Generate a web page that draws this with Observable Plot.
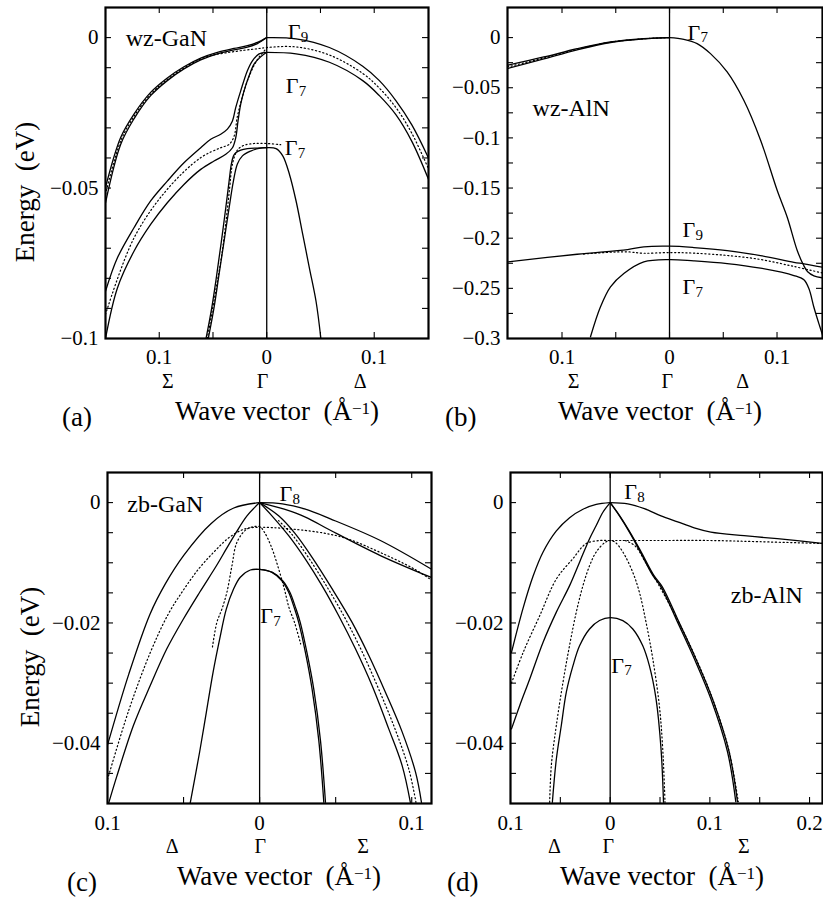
<!DOCTYPE html>
<html><head><meta charset="utf-8">
<script src="https://cdn.jsdelivr.net/npm/d3@7"></script>
<script src="https://cdn.jsdelivr.net/npm/@observablehq/plot@0.6"></script>
<style>
body{margin:0;background:#fff;}
#wrap{position:relative;width:823px;height:903px;overflow:hidden;background:#fff;font-family:"Liberation Serif","Times New Roman",Times,serif;color:#000;}
.panel{position:absolute;}
.lab{position:absolute;font-size:27px;line-height:24px;white-space:pre;}
.lab sup{font-size:17px;line-height:0;vertical-align:0;position:relative;top:-6px;}
.ylab{position:absolute;font-size:27px;line-height:27px;white-space:pre;transform:translate(-50%,-50%) rotate(-90deg);}
</style></head><body><div id="wrap"></div>
<script>
// ---------------- panel (a) wz-GaN ----------------
const aG9L1 = [[-0.15,-0.0498],[-0.1359,-0.0332],[-0.1235,-0.0254],[-0.108,-0.0182],[-0.0925,-0.0134],[-0.077,-0.0097],[-0.0614,-0.0068],[-0.0459,-0.0049],[-0.0304,-0.0036],[-0.018,-0.0027],[-0.0087,-0.0016],[0,0]];
const aG9L2 = [[-0.15,-0.0549],[-0.1359,-0.0355],[-0.1235,-0.027],[-0.108,-0.0193],[-0.0925,-0.0143],[-0.077,-0.0104],[-0.0614,-0.0074],[-0.0459,-0.0054],[-0.0304,-0.0041],[-0.018,-0.0032],[-0.0087,-0.002],[0,0]];
const aG9R = [[0,0],[0.0273,-0.0004],[0.0583,-0.0033],[0.0893,-0.0095],[0.1048,-0.0143],[0.1203,-0.021],[0.135,-0.029],[0.1505,-0.040]];
const aG7R = [[0,-0.0049],[0.0273,-0.0054],[0.0583,-0.0082],[0.0893,-0.0143],[0.1048,-0.0193],[0.1203,-0.0257],[0.135,-0.0345],[0.1505,-0.0471]];
const aTopDot = [[-0.15,-0.052],[-0.1359,-0.0344],[-0.1235,-0.0262],[-0.108,-0.0188],[-0.0925,-0.0139],[-0.077,-0.0101],[-0.0614,-0.0071],[-0.05,-0.0058],[-0.0366,-0.005],[-0.021,-0.0042],[-0.0087,-0.0037],[0,-0.0033],[0.0273,-0.0031],[0.0583,-0.0058],[0.0893,-0.0119],[0.1048,-0.0168],[0.1203,-0.0233],[0.135,-0.0318],[0.1505,-0.0436]];
const aLH1 = [[-0.15,-0.0843],[-0.1389,-0.0732],[-0.1235,-0.0632],[-0.108,-0.0543],[-0.0925,-0.0477],[-0.077,-0.0416],[-0.0614,-0.0366],[-0.0521,-0.0338],[-0.0428,-0.0321],[-0.0366,-0.0304],[-0.0319,-0.0277],[-0.0288,-0.0232],[-0.0242,-0.0177],[-0.018,-0.011],[-0.0133,-0.0077],[-0.0071,-0.0054],[0,-0.0049]];
const aLH2 = [[-0.15,-0.1],[-0.1389,-0.0832],[-0.1235,-0.071],[-0.108,-0.0621],[-0.0925,-0.0549],[-0.077,-0.0488],[-0.0614,-0.0438],[-0.049,-0.041],[-0.0381,-0.0388],[-0.0319,-0.0366],[-0.0288,-0.0332],[-0.0267,-0.0277],[-0.0242,-0.0221],[-0.0211,-0.0177],[-0.0164,-0.0127],[-0.0118,-0.0088],[-0.0056,-0.0064],[0,-0.0049]];
const aLHDot = [[-0.15,-0.092],[-0.1235,-0.0666],[-0.0925,-0.0504],[-0.0614,-0.0399],[-0.0428,-0.0366],[-0.035,-0.0355],[-0.0304,-0.0328],[-0.0273,-0.0262],[-0.0226,-0.0196],[-0.0164,-0.0129],[-0.0087,-0.0073],[0,-0.0035]];
const aSO1 = [[-0.0567,-0.1004],[-0.0512,-0.0899],[-0.0465,-0.0788],[-0.0422,-0.0677],[-0.0381,-0.0566],[-0.035,-0.0477],[-0.0329,-0.042],[-0.031,-0.0394],[-0.0288,-0.0383],[-0.0242,-0.0374],[-0.018,-0.0369],[-0.0087,-0.0367],[0,-0.0366]];
const aSO2 = [[-0.0546,-0.1004],[-0.0491,-0.0899],[-0.0444,-0.0788],[-0.0397,-0.0677],[-0.035,-0.0566],[-0.031,-0.0477],[-0.0273,-0.042],[-0.0226,-0.0393],[-0.0149,-0.0377],[-0.0071,-0.0368],[0,-0.0366]];
const aSOR = [[0,-0.0366],[0.0087,-0.0369],[0.0149,-0.0393],[0.0211,-0.0454],[0.0273,-0.0543],[0.0335,-0.0654],[0.0397,-0.0766],[0.0459,-0.0877],[0.0505,-0.1004]];
const aSODot = [[-0.0553,-0.1],[-0.047,-0.0832],[-0.0418,-0.0721],[-0.0375,-0.0599],[-0.0345,-0.0499],[-0.0325,-0.0432],[-0.0298,-0.0393],[-0.0267,-0.0371],[-0.0211,-0.0358],[-0.0118,-0.0352],[0,-0.0352],[0.013,-0.0356]];
const aXLabels = [-0.1, 0, 0.1];
const aXMinor = [-0.1, -0.05, 0, 0.05, 0.1];
const aYLabels = [0, -0.05, -0.1];
const aYMinor = [0, -0.01, -0.02, -0.03, -0.04, -0.05, -0.06, -0.07, -0.08, -0.09];
const aGammaSub = ["9", "7", "7"];
const aGammaK = [0.0195, 0.0177, 0.0167];
const aGammaE = [0.0019, -0.0162, -0.0368];
const aDirText = ["Σ", "Γ", "Δ"];
const aDirK = [-0.092, -0.004, 0.087];

// ---------------- panel (b) wz-AlN ----------------
const bTopR = [[0,0],[0.0133,-0.0017],[0.0257,-0.006],[0.0381,-0.016],[0.0536,-0.0342],[0.0691,-0.0625],[0.0847,-0.1023],[0.1002,-0.1525],[0.1095,-0.1791],[0.1188,-0.2123],[0.1245,-0.2265],[0.1285,-0.2335],[0.1343,-0.2375],[0.1423,-0.2395]];
const bTopL1 = [[-0.1507,-0.0276],[-0.1169,-0.0193],[-0.0859,-0.011],[-0.0549,-0.0043],[-0.0239,-0.001],[0,0]];
const bTopL2 = [[-0.1507,-0.0309],[-0.1169,-0.0212],[-0.0859,-0.0122],[-0.0549,-0.0049],[-0.0239,-0.0013],[0,0]];
const bTopDot = [[-0.1507,-0.0293],[-0.1169,-0.0203],[-0.0859,-0.0116],[-0.0549,-0.0046],[-0.0239,-0.0012],[0,0]];
const bG9 = [[-0.1507,-0.2236],[-0.0859,-0.216],[-0.039,-0.2113],[-0.0239,-0.2086],[0,-0.208],[0.0226,-0.2093],[0.0536,-0.2123],[0.0846,-0.2173],[0.1157,-0.224],[0.125,-0.2256],[0.1423,-0.229]];
const bG7 = [[-0.0735,-0.2983],[-0.0642,-0.2684],[-0.0549,-0.2485],[-0.0425,-0.2352],[-0.0239,-0.2236],[0,-0.2213],[0.0226,-0.2226],[0.0536,-0.2253],[0.0846,-0.2299],[0.1157,-0.2372],[0.125,-0.2415],[0.1297,-0.2505],[0.1343,-0.2688],[0.139,-0.2854],[0.143,-0.2987]];
const bMidDot = [[-0.08,-0.2158],[-0.055,-0.214],[-0.039,-0.2136],[-0.0239,-0.215],[0,-0.2143],[0.0226,-0.2149],[0.0536,-0.2172],[0.0846,-0.2212],[0.1157,-0.2282],[0.1423,-0.2347]];
const bXLabels = [-0.1, 0, 0.1];
const bXMinor = [-0.1, -0.05, 0, 0.05, 0.1];
const bYLabels = [0, -0.05, -0.1, -0.15, -0.2, -0.25, -0.3];
const bYMinor = [0, -0.025, -0.05, -0.075, -0.1, -0.125, -0.15, -0.175, -0.2, -0.225, -0.25, -0.275];
const bGammaSub = ["7", "9", "7"];
const bGammaK = [0.0167, 0.0121, 0.0121];
const bGammaE = [0.005, -0.1919, -0.2487];
const bDirText = ["Σ", "Γ", "Δ"];
const bDirK = [-0.0893, -0.002, 0.068];

// ---------------- panel (c) zb-GaN ----------------
const cHHL = [[-0.1,-0.0403],[-0.086,-0.0285],[-0.072,-0.0185],[-0.062,-0.0135],[-0.05,-0.0088],[-0.032,-0.0035],[-0.017,-0.0009],[0,0]];
const cHHR1 = [[0,0],[0.015,-0.0002],[0.0301,-0.0011],[0.0465,-0.0027],[0.0794,-0.0063],[0.1125,-0.011]];
const cHHR2 = [[0,0],[0.0162,-0.0011],[0.0301,-0.0024],[0.0465,-0.0046],[0.0794,-0.0088],[0.1125,-0.0124]];
const cLHL = [[-0.0993,-0.05],[-0.0939,-0.0455],[-0.0829,-0.037],[-0.0719,-0.0304],[-0.061,-0.0243],[-0.05,-0.0193],[-0.0394,-0.0149],[-0.0284,-0.0105],[-0.0219,-0.0077],[-0.0153,-0.0049],[-0.0083,-0.0022],[0,0]];
const cLHR1 = [[0,0],[0.0081,-0.0022],[0.0191,-0.0055],[0.0301,-0.0094],[0.041,-0.0138],[0.052,-0.0188],[0.063,-0.0243],[0.0739,-0.0304],[0.0849,-0.0376],[0.0937,-0.0437],[0.0991,-0.0498]];
const cLHR2 = [[0,0],[0.0125,-0.0022],[0.0235,-0.0052],[0.0345,-0.0091],[0.0476,-0.0143],[0.0608,-0.0199],[0.0718,-0.0254],[0.0827,-0.0315],[0.0937,-0.0381],[0.1025,-0.0448],[0.1064,-0.0498]];
const cLHRDot = [[0.0125,-0.003],[0.0213,-0.0053],[0.0323,-0.0092],[0.0443,-0.014],[0.0564,-0.0193],[0.0674,-0.0248],[0.0783,-0.031],[0.0893,-0.0378],[0.0981,-0.0443],[0.1028,-0.0498]];
const cSOL = [[-0.0456,-0.0499],[-0.0394,-0.0414],[-0.035,-0.0348],[-0.0306,-0.0282],[-0.0262,-0.0226],[-0.0219,-0.0177],[-0.0172,-0.0144],[-0.0127,-0.0124],[-0.0061,-0.0112],[0,-0.0111]];
const cSOR1 = [[0,-0.0111],[0.0081,-0.0116],[0.0147,-0.013],[0.0191,-0.0149],[0.0228,-0.0175],[0.0257,-0.0199],[0.0301,-0.0249],[0.0345,-0.031],[0.0389,-0.0395],[0.0422,-0.0498]];
const cSOR2 = [[0,-0.0111],[0.0085,-0.0116],[0.0153,-0.013],[0.0199,-0.0149],[0.0237,-0.0175],[0.0267,-0.0199],[0.0311,-0.0249],[0.0356,-0.031],[0.04,-0.0395],[0.0433,-0.0498]];
const cDotA = [[-0.1,-0.046],[-0.086,-0.0345],[-0.072,-0.025],[-0.06,-0.0185],[-0.05,-0.0145],[-0.04,-0.011],[-0.03,-0.0082],[-0.02,-0.0058],[-0.01,-0.0044],[0,-0.0041],[0.0382,-0.0049],[0.0575,-0.006],[0.0794,-0.0083],[0.1014,-0.011],[0.1125,-0.0128]];
const cDotB = [[-0.031,-0.024],[-0.0281,-0.0199],[-0.0248,-0.0177],[-0.0215,-0.0149],[-0.0182,-0.0105],[-0.0149,-0.0066],[-0.0083,-0.0044],[0,-0.004],[0.0031,-0.0049],[0.0075,-0.0072],[0.0119,-0.0105],[0.0162,-0.0143],[0.0195,-0.0176],[0.0228,-0.0198],[0.027,-0.0235]];
const cXLabels = [-0.1, 0, 0.1];
const cXMinor = [-0.05, 0, 0.05, 0.1];
const cYLabels = [0, -0.02, -0.04];
const cYMinor = [0, -0.005, -0.01, -0.015, -0.02, -0.025, -0.03, -0.035, -0.04, -0.045];
const cGammaSub = ["8", "7"];
const cGammaK = [0.013, 0.0005];
const cGammaE = [0.0014, -0.0189];
const cDirText = ["Δ", "Γ", "Σ"];
const cDirK = [-0.0574, 0.0005, 0.068];

// ---------------- panel (d) zb-AlN ----------------
const dHHL = [[-0.099,-0.0249],[-0.0873,-0.0175],[-0.0773,-0.0122],[-0.0673,-0.0082],[-0.054,-0.0047],[-0.0407,-0.0025],[-0.0273,-0.0011],[-0.014,-0.0003],[0,0]];
const dLHL = [[-0.099,-0.0376],[-0.0907,-0.0337],[-0.0807,-0.0293],[-0.0673,-0.0232],[-0.054,-0.0182],[-0.0407,-0.0138],[-0.0307,-0.0099],[-0.0207,-0.006],[-0.014,-0.0038],[-0.0073,-0.0016],[0,0]];
const dHHR = [[0,0],[0.0177,-0.0002],[0.0343,-0.001],[0.051,-0.0022],[0.0677,-0.0032],[0.0843,-0.0042],[0.101,-0.0049],[0.1343,-0.0055],[0.1677,-0.006],[0.2143,-0.0068]];
const dLHR1 = [[0,0],[0.0093,-0.0022],[0.0193,-0.0049],[0.0293,-0.0079],[0.0427,-0.0121],[0.051,-0.014],[0.0677,-0.0199],[0.0843,-0.0259],[0.101,-0.0326],[0.1177,-0.0414],[0.126,-0.0497]];
const dLHR2 = [[0,0],[0.0096,-0.0022],[0.0198,-0.0049],[0.0301,-0.0079],[0.0438,-0.0121],[0.0523,-0.014],[0.0691,-0.0199],[0.0858,-0.0259],[0.1026,-0.0326],[0.1193,-0.0414],[0.1277,-0.0497]];
const dSO = [[-0.058,-0.0498],[-0.054,-0.0426],[-0.049,-0.037],[-0.044,-0.0315],[-0.0373,-0.0271],[-0.0307,-0.0238],[-0.0207,-0.021],[-0.0107,-0.0196],[0,-0.0191],[0.0127,-0.0196],[0.0227,-0.021],[0.0327,-0.0238],[0.0393,-0.0271],[0.046,-0.0326],[0.051,-0.0409],[0.0535,-0.0498]];
const dDotA = [[-0.099,-0.030],[-0.0873,-0.0249],[-0.0707,-0.0188],[-0.054,-0.0127],[-0.0373,-0.0093],[-0.024,-0.0068],[-0.01,-0.0063],[0,-0.0063],[0.05,-0.0063],[0.1,-0.0063],[0.15,-0.0065],[0.2143,-0.0068]];
const dDotB = [[-0.0607,-0.0498],[-0.059,-0.0436],[-0.054,-0.037],[-0.0473,-0.0298],[-0.0407,-0.0237],[-0.034,-0.0182],[-0.0273,-0.0138],[-0.0207,-0.0105],[-0.014,-0.0082],[-0.005,-0.0066],[0,-0.0063],[0.005,-0.0066],[0.0127,-0.0082],[0.0227,-0.0116],[0.0293,-0.0149],[0.036,-0.0199],[0.0427,-0.0259],[0.0493,-0.0337],[0.0527,-0.0409],[0.055,-0.0498]];
const dDotC = [[0.015,-0.0063],[0.025,-0.0072],[0.035,-0.0098],[0.047,-0.0132],[0.0677,-0.0195],[0.085,-0.0255],[0.102,-0.0323],[0.119,-0.0411],[0.1285,-0.0497]];
const dXLabels = [-0.1, 0, 0.1, 0.2];
const dXMinor = [-0.05, 0, 0.05, 0.1, 0.15, 0.2];
const dYLabels = [0, -0.02, -0.04];
const dYMinor = [0, -0.005, -0.01, -0.015, -0.02, -0.025, -0.03, -0.035, -0.04, -0.045];
const dGammaSub = ["8", "7"];
const dGammaK = [0.014, 0.001];
const dGammaE = [0.0017, -0.0271];
const dDirText = ["Δ", "Γ", "Σ"];
const dDirK = [-0.056, -0.002, 0.134];

// ---------------- drawing ----------------
const FONT = '"Liberation Serif","Times New Roman",Times,serif';
const fmtX = d => d === 0 ? "0" : String(+Math.abs(d).toFixed(3));
const fmtY = d => d === 0 ? "0" : "\u2212" + String(+Math.abs(d).toFixed(3));

function buildPanel(p) {
  const fw = p.width - p.ml - p.mr;
  const fh = p.height - p.mt - p.mb;
  const TK = 6;
  const xy = {x: d => d[0], y: d => d[1]};
  const marks = [];
  marks.push(Plot.ruleX([0], {stroke: "black", strokeWidth: 1.3}));
  for (const s of p.dotted) marks.push(Plot.line(s, {...xy, curve: "catmull-rom", stroke: "black", strokeWidth: 1.2, strokeDasharray: "1.2,2.6", clip: true}));
  for (const s of p.solid) marks.push(Plot.line(s, {...xy, curve: "catmull-rom", stroke: "black", strokeWidth: 1.3, clip: true}));
  marks.push(Plot.tickY(p.yMinor, {y: d => d, insetRight: fw - TK, strokeWidth: 1.1}));
  marks.push(Plot.tickY(p.yMinor, {y: d => d, insetLeft: fw - TK, strokeWidth: 1.1}));
  marks.push(Plot.tickX(p.xMinor, {x: d => d, insetTop: fh - TK, strokeWidth: 1.1}));
  marks.push(Plot.tickX(p.xMinor, {x: d => d, insetBottom: fh - TK, strokeWidth: 1.1}));
  marks.push(Plot.axisY(p.yLabels, {tickSize: 0, tickPadding: 7, tickFormat: fmtY, fontSize: 21, fontFamily: FONT, label: null}));
  marks.push(Plot.axisX(p.xLabels, {tickSize: 0, tickPadding: p.xPad, tickFormat: fmtX, fontSize: 21, fontFamily: FONT, label: null}));
  marks.push(Plot.frame({stroke: "black", strokeWidth: 2.2}));
  const gi = p.gammaSub.map((_, i) => i);
  marks.push(Plot.text(gi, {x: i => p.gammaK[i], y: i => p.gammaE[i], text: () => "Γ", textAnchor: "start", fontSize: 22, fontFamily: FONT}));
  marks.push(Plot.text(gi, {x: i => p.gammaK[i], y: i => p.gammaE[i], text: i => p.gammaSub[i], textAnchor: "start", dx: 13, dy: 5, fontSize: 15, fontFamily: FONT}));
  marks.push(Plot.text([p.name], {x: () => p.nameK, y: () => p.nameE, text: d => d, textAnchor: "start", fontSize: 24, fontFamily: FONT}));
  const di = p.dirText.map((_, i) => i);
  marks.push(Plot.text(di, {x: i => p.dirK[i], frameAnchor: "bottom", dy: 49, text: i => p.dirText[i], fontSize: 20, fontFamily: FONT}));
  const svg = Plot.plot({
    width: p.width, height: p.height,
    marginLeft: p.ml, marginRight: p.mr, marginTop: p.mt, marginBottom: p.mb,
    x: {domain: p.xDomain}, y: {domain: p.yDomain},
    style: {background: "transparent", overflow: "visible", fontFamily: FONT, color: "black"},
    marks
  });
  const holder = document.createElement("div");
  holder.className = "panel";
  holder.style.left = p.left + "px";
  holder.style.top = p.top + "px";
  holder.appendChild(svg);
  document.getElementById("wrap").appendChild(holder);
}

function addLabel(html, left, top, cls) {
  const el = document.createElement("div");
  el.className = cls || "lab";
  el.style.left = left + "px";
  el.style.top = top + "px";
  el.innerHTML = html;
  document.getElementById("wrap").appendChild(el);
}

buildPanel({left: 0, top: 0, width: 440, height: 440, ml: 105, mr: 12, mt: 7, mb: 102,
  xDomain: [-0.15, 0.1505], yDomain: [-0.1, 0.01], xPad: 11,
  solid: [aG9L1, aG9L2, aG9R, aG7R, aLH1, aLH2, aSO1, aSO2, aSOR],
  dotted: [aTopDot, aLHDot, aSODot],
  xLabels: aXLabels, xMinor: aXMinor, yLabels: aYLabels, yMinor: aYMinor,
  gammaSub: aGammaSub, gammaK: aGammaK, gammaE: aGammaE,
  name: "wz-GaN", nameK: -0.1312, nameE: -0.0003,
  dirText: aDirText, dirK: aDirK});

buildPanel({left: 440, top: 0, width: 383, height: 440, ml: 67, mr: 1, mt: 7, mb: 102,
  xDomain: [-0.1507, 0.1423], yDomain: [-0.3, 0.03], xPad: 11,
  solid: [bTopR, bTopL1, bTopL2, bG9, bG7],
  dotted: [bTopDot, bMidDot],
  xLabels: bXLabels, xMinor: bXMinor, yLabels: bYLabels, yMinor: bYMinor,
  gammaSub: bGammaSub, gammaK: bGammaK, gammaE: bGammaE,
  name: "wz-AlN", nameK: -0.1274, nameE: -0.0708,
  dirText: bDirText, dirK: bDirK});

buildPanel({left: 0, top: 440, width: 440, height: 463, ml: 107, mr: 9, mt: 32, mb: 100,
  xDomain: [-0.1, 0.113], yDomain: [-0.05, 0.005], xPad: 12,
  solid: [cHHL, cHHR1, cHHR2, cLHL, cLHR1, cLHR2, cSOL, cSOR1, cSOR2],
  dotted: [cDotA, cDotB, cLHRDot],
  xLabels: cXLabels, xMinor: cXMinor, yLabels: cYLabels, yMinor: cYMinor,
  gammaSub: cGammaSub, gammaK: cGammaK, gammaE: cGammaE,
  name: "zb-GaN", nameK: -0.087, nameE: -0.0003,
  dirText: cDirText, dirK: cDirK});

buildPanel({left: 440, top: 440, width: 383, height: 463, ml: 70, mr: 1, mt: 32, mb: 100,
  xDomain: [-0.1, 0.213], yDomain: [-0.05, 0.005], xPad: 12,
  solid: [dHHL, dLHL, dHHR, dLHR1, dLHR2, dSO],
  dotted: [dDotA, dDotB, dDotC],
  xLabels: dXLabels, xMinor: dXMinor, yLabels: dYLabels, yMinor: dYMinor,
  gammaSub: dGammaSub, gammaK: dGammaK, gammaE: dGammaE,
  name: "zb-AlN", nameK: 0.121, nameE: -0.0154,
  dirText: dDirText, dirK: dDirK});

const yHtml = "Energy\u00a0\u00a0(eV)";
addLabel(yHtml, 25, 192, "ylab");
addLabel(yHtml, 30, 657, "ylab");
const waveHtml = "Wave vector\u00a0\u00a0(\u00c5<sup>\u22121</sup>)";
addLabel(waveHtml, 175, 399);
addLabel("(a)", 62, 405);
addLabel(waveHtml, 558, 399);
addLabel("(b)", 445, 405);
addLabel(waveHtml, 177, 864);
addLabel("(c)", 67, 870);
addLabel(waveHtml, 560, 864);
addLabel("(d)", 447, 870);
</script></body></html>
